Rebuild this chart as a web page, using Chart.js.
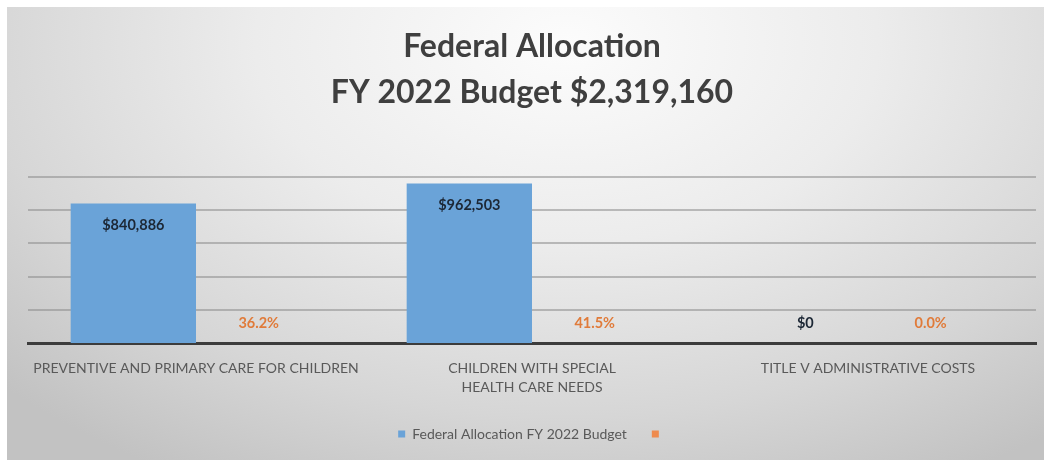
<!DOCTYPE html>
<html>
<head>
<meta charset="utf-8">
<script src="https://cdn.jsdelivr.net/npm/chart.js@4"></script>
<style>
  html, body { margin: 0; padding: 0; background: #fff; }
  #panel {
    position: absolute;
    left: 7px; top: 7px;
    width: 1037px; height: 453px;
    background: radial-gradient(ellipse 75% 110% at 54% 8%, #fcfcfc 0%, #ececec 40%, #d6d6d6 75%, #c2c2c2 100%);
  }
</style>
</head>
<body>
<div id="panel"><canvas id="budgetChart"></canvas></div>
<script>
const categories = [
  'PREVENTIVE AND PRIMARY CARE FOR CHILDREN',
  ['CHILDREN WITH SPECIAL', 'HEALTH CARE NEEDS'],
  'TITLE V ADMINISTRATIVE COSTS'
]
const budget = [840886, 962503, 0]
const share = [0.362, 0.415, 0.0]
const yTicks = [0, 200000, 400000, 600000, 800000, 1000000]

const FONT = 'Lato, "Open Sans", sans-serif'

// value labels on the bars
const barLabels = {
  id: 'barLabels',
  afterDraw(chart) {
    const c = chart.ctx
    c.save()
    c.font = 'bold 14.5px ' + FONT
    c.textAlign = 'center'
    c.textBaseline = 'middle'

    chart.getDatasetMeta(0).data.forEach((bar, i) => {
      const v = budget[i]
      c.fillStyle = '#1c2735'
      const y = v > 0 ? bar.y + 22 : bar.base - 20
      c.fillText('$' + v.toLocaleString('en-US'), bar.x, y)
    })

    chart.getDatasetMeta(1).data.forEach((bar, i) => {
      c.fillStyle = '#e07b3a'
      c.fillText((share[i] * 100).toFixed(1) + '%', bar.x, bar.base - 20)
    })
    c.restore()
  }
}

new Chart(document.getElementById('budgetChart'), {
  type: 'bar',
  data: {
    labels: categories,
    datasets: [{
      label: 'Federal Allocation FY 2022 Budget',
      data: budget,
      backgroundColor: '#6aa3d8'
    }, {
      label: '',
      data: share,
      backgroundColor: '#ee8b4f',
      inflateAmount: 0
    }]
  },
  options: {
    responsive: true,
    maintainAspectRatio: false,
    animation: false,
    layout: { padding: { left: 21, right: 8, top: 0, bottom: 9 } },
    datasets: {
      bar: { categoryPercentage: 0.746, barPercentage: 1 }
    },
    plugins: {
      title: {
        display: true,
        text: ['Federal Allocation', 'FY 2022 Budget $2,319,160'],
        color: '#3f3f3f',
        font: { family: FONT, size: 32, weight: 'bold', lineHeight: 1.44 },
        padding: { top: 17, bottom: 61 }
      },
      legend: {
        position: 'bottom',
        labels: {
          boxWidth: 7,
          boxHeight: 7,
          padding: 25,
          color: '#595959',
          font: { family: FONT, size: 14 }
        }
      },
      tooltip: { enabled: false }
    },
    scales: {
      x: {
        z: 1,
        grid: { display: false, drawTicks: false },
        border: { display: true, color: '#3c3c3c', width: 3 },
        ticks: {
          color: '#595959',
          padding: 16,
          maxRotation: 0,
          autoSkip: false,
          font: { family: FONT, size: 14, lineHeight: 1.35 }
        },
        afterFit(scale) { scale.height = 59 }
      },
      y: {
        min: 0,
        max: 1000000,
        afterBuildTicks(scale) { scale.ticks = yTicks.map(v => ({ value: v })) },
        ticks: { display: false },
        border: { display: false },
        grid: {
          drawTicks: false,
          color: 'rgba(140,140,140,0.55)',
          lineWidth: ctx => ctx.tick && ctx.tick.value === 0 ? 0 : 2
        }
      }
    }
  },
  plugins: [barLabels]
})
</script>
</body>
</html>
